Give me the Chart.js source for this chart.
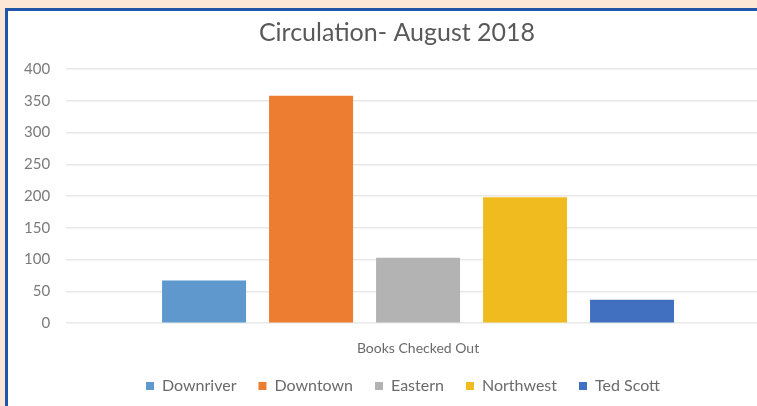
<!DOCTYPE html>
<html lang="en">

<head>
    <meta charset="UTF-8">
    <title>Circulation- August 2018</title>
    <style>
        html, body { margin: 0; padding: 0; overflow: hidden; }
        body { background: #fce6d6; width: 757px; height: 406px; position: relative; }
        .frame {
            position: absolute;
            left: 5px;
            top: 8px;
            width: 800px;
            height: 420px;
            border-left: 3px solid #1f56a8;
            border-top: 3px solid #1f56a8;
            background: #ffffff;
        }
    </style>
</head>

<body>

    <div class="frame">
        <canvas id="myChart" width="790" height="395"></canvas>
    </div>

    <script src="https://cdn.jsdelivr.net/npm/chart.js"></script>

    <script>
        // data
        const categories = ['Books Checked Out'];
        const branches = ['Downriver', 'Downtown', 'Eastern', 'Northwest', 'Ted Scott'];
        const checkedOut = [67, 358, 103, 198, 37];
        const colors = ['#5f98cd', '#ed7d31', '#b3b3b3', '#f0bb1f', '#4170c0'];
        const yTicks = [0, 50, 100, 150, 200, 250, 300, 350, 400];

        const ctx = document.getElementById('myChart');

        const datasets = branches.map((name, i) => ({
            label: name,
            data: [checkedOut[i]],
            backgroundColor: colors[i],
            borderWidth: 0,
            categoryPercentage: 0.76,
            barPercentage: 0.785
        }));

        // legend keeps its wide label spacing but takes less height,
        // title and legend nudged right a bit
        const legendTrim = 10;
        const legendShift = 14;
        const titleShift = 8;
        const nudge = {
            id: 'nudge',
            beforeInit(chart) {
                const fit = chart.legend.fit;
                chart.legend.fit = function () {
                    fit.bind(this)();
                    this.height -= legendTrim;
                };
            },
            afterLayout(chart) {
                const lg = chart.legend;
                lg.top -= legendTrim;
                lg.bottom -= legendTrim;
                lg.left += legendShift;
                lg.right += legendShift;
                const tb = chart.titleBlock;
                tb.left += titleShift;
                tb.right += titleShift;
            }
        };

        new Chart(ctx, {
            type: 'bar',
            data: { labels: categories, datasets: datasets },
            plugins: [nudge],
            options: {
                responsive: false,
                animation: false,
                layout: { padding: { left: 0, right: 28, top: 5, bottom: 2 } },
                plugins: {
                    title: {
                        display: true,
                        text: 'Circulation- August 2018',
                        color: '#595959',
                        font: { family: 'Lato', size: 25, weight: 'normal' },
                        padding: { top: 2, bottom: 21 }
                    },
                    legend: {
                        position: 'bottom',
                        labels: {
                            color: '#6a6a6a',
                            font: { family: 'Lato', size: 16 },
                            boxWidth: 8,
                            boxHeight: 8,
                            padding: 22
                        }
                    },
                    tooltip: { enabled: false }
                },
                scales: {
                    x: {
                        grid: { display: false },
                        border: { display: false },
                        ticks: {
                            color: '#6a6a6a',
                            font: { family: 'Lato', size: 14 },
                            padding: 9
                        }
                    },
                    y: {
                        min: 0,
                        max: 400,
                        afterBuildTicks: (axis) => { axis.ticks = yTicks.map(v => ({ value: v })); },
                        grid: { color: '#e8e8e8', lineWidth: 1.5, drawTicks: false },
                        border: { display: false },
                        ticks: {
                            color: '#7a7a7a',
                            font: { family: 'Lato', size: 15 },
                            padding: 16
                        }
                    }
                }
            }
        });

    </script>
</body>

</html>
